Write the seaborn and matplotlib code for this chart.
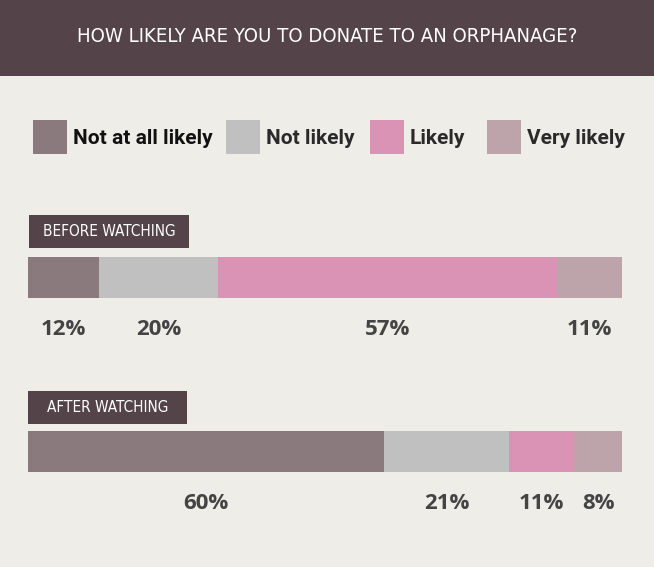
import pandas as pd
import numpy as np
import matplotlib.pyplot as plt
import seaborn as sns
from matplotlib.patches import Rectangle

# data
stages = ['BEFORE WATCHING', 'AFTER WATCHING']
categories = ['Not at all likely', 'Not likely', 'Likely', 'Very likely']
before_pct = [12, 20, 57, 11]
after_pct = [60, 21, 11, 8]
colors = ['#8a7a7e', '#c0c0c0', '#db93b5', '#bda3aa']

bg = '#efede8'
dark = '#55434a'

sns.set_theme(style='white')
plt.rcParams['font.family'] = ['Roboto', 'DejaVu Sans']

df = pd.DataFrame({
    'stage': np.repeat(stages, len(categories)),
    'category': categories * len(stages),
    'value': before_pct + after_pct,
})
df['cum'] = df.groupby('stage', sort=False)['value'].cumsum()
df['start'] = df['cum'] - df['value']

W, H = 654, 567
fig = plt.figure(figsize=(W / 100, H / 100), dpi=100, facecolor=bg)

narrow = ['DejaVu Sans', 'Noto Sans']

# title band
fig.add_artist(Rectangle((0, 1 - 76 / H), 1, 76 / H, transform=fig.transFigure,
                         facecolor=dark, edgecolor='none'))
fig.text(0.5, 1 - 37 / H, 'HOW LIKELY ARE YOU TO DONATE TO AN ORPHANAGE?',
         ha='center', va='center', color='white', fontsize=14.6,
         family=narrow, fontstretch='condensed')

# legend
leg_x = [33, 226, 370, 487]
for cat, col, lx in zip(categories, colors, leg_x):
    fig.add_artist(Rectangle((lx / W, 1 - 154 / H), 34 / W, 34 / H,
                             transform=fig.transFigure, facecolor=col, edgecolor='none'))
    fig.text((lx + 40) / W, 1 - 138 / H, cat, ha='left', va='center',
             fontsize=15, fontweight='bold',
             color='#111111' if cat == categories[0] else '#2a2a2a')

# bars axes
y0, y1 = 200, 530
ax = fig.add_axes([28 / W, 1 - y1 / H, 594 / W, (y1 - y0) / H])
ax.set_facecolor(bg)

# stacked bars: draw cumulative totals back to front
for cat, col in reversed(list(zip(categories, colors))):
    sub = df[df['category'] == cat]
    sns.barplot(data=sub, x='cum', y='stage', order=stages, color=col,
                orient='h', width=41 / 174, saturation=1, ax=ax, edgecolor='none')

scale = 174
ax.set_xlim(0, 100)
ax.set_ylim((y1 - 277.5) / scale, (y0 - 277.5) / scale)
ax.set_xlabel('')
ax.set_ylabel('')
ax.set_xticks([])
ax.set_yticks([])
sns.despine(ax=ax, left=True, bottom=True)

# percent labels under each segment
for i, stage in enumerate(stages):
    sub = df[df['stage'] == stage]
    for _, r in sub.iterrows():
        ax.text(r['start'] + r['value'] / 2, i + 52 / scale, f"{r['value']}%",
                ha='center', va='center', fontsize=16, fontweight='bold',
                color='#444444', family=['Open Sans', 'DejaVu Sans'])

# stage label boxes
boxes = [(29, 215, 160), (28, 391, 159)]
for stage, (bx, by, bw) in zip(stages, boxes):
    fig.add_artist(Rectangle((bx / W, 1 - (by + 33) / H), bw / W, 33 / H,
                             transform=fig.transFigure, facecolor=dark, edgecolor='none'))
    fig.text((bx + bw / 2) / W, 1 - (by + 16.5) / H, stage, ha='center', va='center',
             color='white', fontsize=11, family=narrow, fontstretch='condensed')

plt.savefig('out.png', dpi=100, facecolor=bg)
